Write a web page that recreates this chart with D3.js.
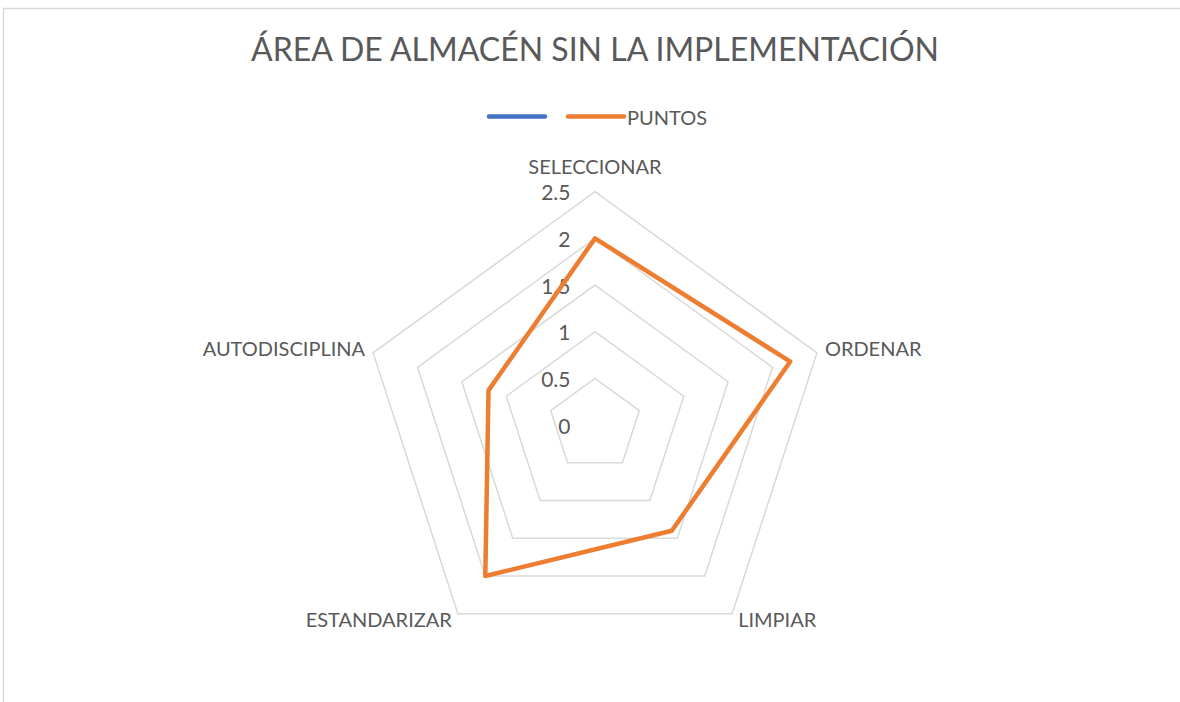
<!DOCTYPE html>
<html>
<head>
<meta charset="utf-8">
<script src="https://cdn.jsdelivr.net/npm/d3@7"></script>
<style>
  html, body { margin: 0; padding: 0; background: #fff; }
  svg { display: block; }
  text { font-family: Lato, "Open Sans", sans-serif; fill: #595959; }
</style>
</head>
<body>
<svg id="chart" width="1180" height="702"></svg>
<script>
// Chart content
const title = "ÁREA DE ALMACÉN SIN LA IMPLEMENTACIÓN";
const categories = ["SELECCIONAR", "ORDENAR", "LIMPIAR", "ESTANDARIZAR", "AUTODISCIPLINA"];
const puntos = [2, 2.2, 1.4, 2, 1.2];
const tickValues = [0, 0.5, 1, 1.5, 2, 2.5];
const legendNames = ["", "PUNTOS"];
const legendColors = ["#4472C4", "#ED7D31"];

const svg = d3.select("#chart");
const W = 1180, H = 702;
const cx = 595, cy = 425, R = 233.3;

// Chart-area frame (only top and left edges fall inside the view)
svg.append("rect")
  .attr("x", 3.5).attr("y", 8.5)
  .attr("width", W + 20).attr("height", H + 20)
  .attr("fill", "#fff").attr("stroke", "#d9d9d9").attr("stroke-width", 1.5);

// Title
svg.append("text")
  .attr("x", cx).attr("y", 61)
  .attr("text-anchor", "middle")
  .style("font-size", "32px")
  .text(title);

// Legend
const legend = svg.append("g");
const legendX = [489, 568];
legendNames.forEach((name, i) => {
  legend.append("line")
    .attr("x1", legendX[i]).attr("x2", legendX[i] + 56)
    .attr("y1", 116.5).attr("y2", 116.5)
    .attr("stroke", legendColors[i]).attr("stroke-width", 4.5)
    .attr("stroke-linecap", "round");
  if (name) {
    legend.append("text")
      .attr("x", legendX[i] + 59).attr("y", 116.5)
      .attr("dominant-baseline", "central")
      .style("font-size", "20px")
      .text(name);
  }
});

// Radial scale and angles
const r = d3.scaleLinear().domain([0, 2.5]).range([0, R]);
const angle = d3.scaleLinear().domain([0, categories.length]).range([0, 2 * Math.PI]);
const pt = (i, v) => [cx + r(v) * Math.sin(angle(i)), cy - r(v) * Math.cos(angle(i))];

// Grid rings
const ring = d3.line();
tickValues.forEach(t => {
  if (t === 0) return;
  svg.append("path")
    .attr("d", ring(categories.map((c, i) => pt(i, t))) + "Z")
    .attr("fill", "none").attr("stroke", "#d9d9d9").attr("stroke-width", 1.5);
});

// Tick labels
svg.append("g").selectAll("text").data(tickValues).join("text")
  .attr("x", cx - 24.5)
  .attr("y", d => cy - r(d))
  .attr("text-anchor", "end")
  .attr("dominant-baseline", "central")
  .style("font-size", "21px")
  .text(d => d);

// Category labels
svg.append("g").selectAll("text").data(categories).join("text")
  .each(function (d, i) {
    const [x, y] = pt(i, 2.5);
    const s = Math.sin(angle(i)), c = Math.cos(angle(i));
    const sel = d3.select(this);
    if (Math.abs(s) < 0.1) {
      sel.attr("x", x).attr("y", y - 26).attr("text-anchor", "middle");
    } else {
      sel.attr("x", x + (s > 0 ? 1 : -1) * (c > 0 ? 8 : 6))
        .attr("y", y + (c > 0 ? -4.5 : 5))
        .attr("text-anchor", s > 0 ? "start" : "end");
    }
  })
  .attr("dominant-baseline", "central")
  .style("font-size", "20px")
  .text(d => d);

// Data series
svg.append("path")
  .attr("d", d3.line()(puntos.map((v, i) => pt(i, v))) + "Z")
  .attr("fill", "none")
  .attr("stroke", legendColors[1])
  .attr("stroke-width", 4.5)
  .attr("stroke-linejoin", "round");
</script>
</body>
</html>
